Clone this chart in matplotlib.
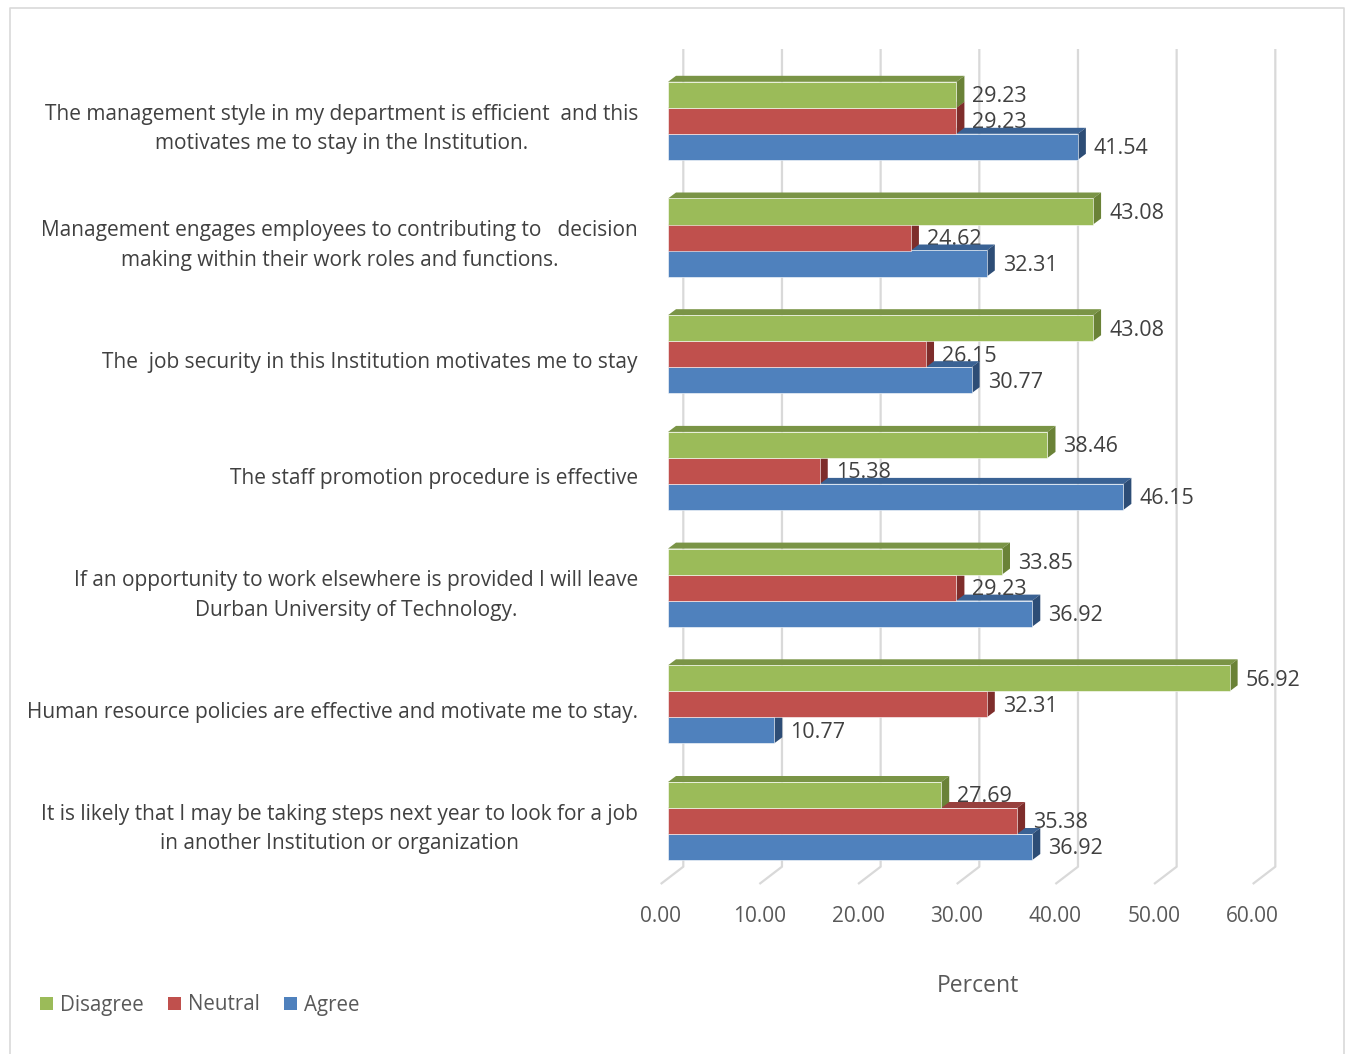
import matplotlib
matplotlib.use("Agg")
import matplotlib.pyplot as plt
from matplotlib.patches import Polygon, Patch

plt.rcParams['font.family'] = ['Open Sans', 'DejaVu Sans']

# Survey statements (bottom to top of the chart)
statements = [
    "It is likely that I may be taking steps next year to look for a job\nin another Institution or organization",
    "Human resource policies are effective and motivate me to stay.",
    "If an opportunity to work elsewhere is provided I will leave\nDurban University of Technology.",
    "The staff promotion procedure is effective",
    "The  job security in this Institution motivates me to stay",
    "Management engages employees to contributing to   decision\nmaking within their work roles and functions.",
    "The management style in my department is efficient  and this\nmotivates me to stay in the Institution.",
]
disagree = [27.69, 56.92, 33.85, 38.46, 43.08, 43.08, 29.23]
neutral = [35.38, 32.31, 29.23, 15.38, 26.15, 24.62, 29.23]
agree = [36.92, 10.77, 36.92, 46.15, 30.77, 32.31, 41.54]
series_names = ["Disagree", "Neutral", "Agree"]
x_ticks = [0, 10, 20, 30, 40, 50, 60]

# colours: front, top, side
palette = {
    "Disagree": ("#9BBB59", "#7A9446", "#6A8237"),
    "Neutral": ("#C0504D", "#97403D", "#7E2D2B"),
    "Agree": ("#4F81BD", "#3A6294", "#2D4D76"),
}

W, H = 1346, 1054
fig = plt.figure(figsize=(W / 100, H / 100), dpi=100)
ax = fig.add_axes([0, 0, 1, 1])

# pixel layout of the plot (percent -> px, category -> px)
SX = 9.867   # px per percent
X0 = 668     # px of 0 % on the bar front plane
SY = 116.7   # px per category
Y0 = 821     # px of the lowest category centre
ax.set_xlim(-X0 / SX, (W - X0) / SX)
ax.set_ylim((Y0 - H) / SY, Y0 / SY)
ax.axis("off")


def py(p):
    """pixel row -> data y"""
    return (Y0 - p) / SY


def px(p):
    """pixel column -> data x"""
    return (p - X0) / SX


BH = 26 / SY          # bar thickness
DX = 8 / SX           # depth shift of the 3-D faces
DY = 6 / SY
BACK = 15.3 / SX      # back wall offset
FRONT = -7.3 / SX     # floor front edge offset

# back wall gridlines and floor
grid_c = "#D9D9D9"
for t in x_ticks:
    ax.plot([t + BACK, t + BACK, t + FRONT], [py(49), py(866.7), py(884)],
            color=grid_c, lw=1.6, solid_capstyle="butt", zorder=1)
    ax.text(t + FRONT, py(916), f"{t:.2f}", ha="center", va="center",
            fontsize=15, color="#595959")

ypos = list(range(len(statements)))
offsets = {"Disagree": BH, "Neutral": 0.0, "Agree": -BH}
values = {"Disagree": disagree, "Neutral": neutral, "Agree": agree}

z = 2
for i in ypos:
    for name in ["Agree", "Neutral", "Disagree"]:
        front, top, side = palette[name]
        v = values[name][i]
        yc = i + offsets[name]
        yb, yt = yc - BH / 2, yc + BH / 2
        ax.add_patch(Polygon([(0, yt), (v, yt), (v + DX, yt + DY), (DX, yt + DY)],
                             closed=True, fc=top, ec="none", zorder=z))
        ax.add_patch(Polygon([(v, yb), (v, yt), (v + DX, yt + DY), (v + DX, yb + DY)],
                             closed=True, fc=side, ec="none", zorder=z))
        ax.barh(yc, v, height=BH, color=front, edgecolor="#FFFFFF", linewidth=0.4,
                zorder=z + 0.5)
        ax.text(v + 16 / SX, yc - 2 / SY, f"{v:.2f}", ha="left", va="center",
                fontsize=15.5, color="#404040", zorder=10)
        z += 1

for i, s in enumerate(statements):
    ax.text(px(638), i - 8 / SY, s, ha="right", va="center", multialignment="center",
            fontsize=15, color="#404040", linespacing=1.52)

ax.text(px(978), py(986), "Percent", ha="center", va="center",
        fontsize=16.5, color="#595959")

handles = [Patch(facecolor=palette[n][0], edgecolor="none", label=n) for n in series_names]
fig.legend(handles=handles, loc="center left", bbox_to_anchor=(40 / W, 1 - 1005 / H),
           ncol=3, frameon=False, fontsize=14.8, handlelength=0.63, handleheight=0.63,
           handletextpad=0.33, columnspacing=1.2, borderpad=0, borderaxespad=0,
           labelcolor="#595959")

# chart border
bc = "#D9D9D9"
ax.plot([px(10), px(10), px(1344), px(1344)], [py(1060), py(8), py(8), py(1060)],
        color=bc, lw=1.2, zorder=0, clip_on=False)

fig.savefig("out.png", dpi=100)
